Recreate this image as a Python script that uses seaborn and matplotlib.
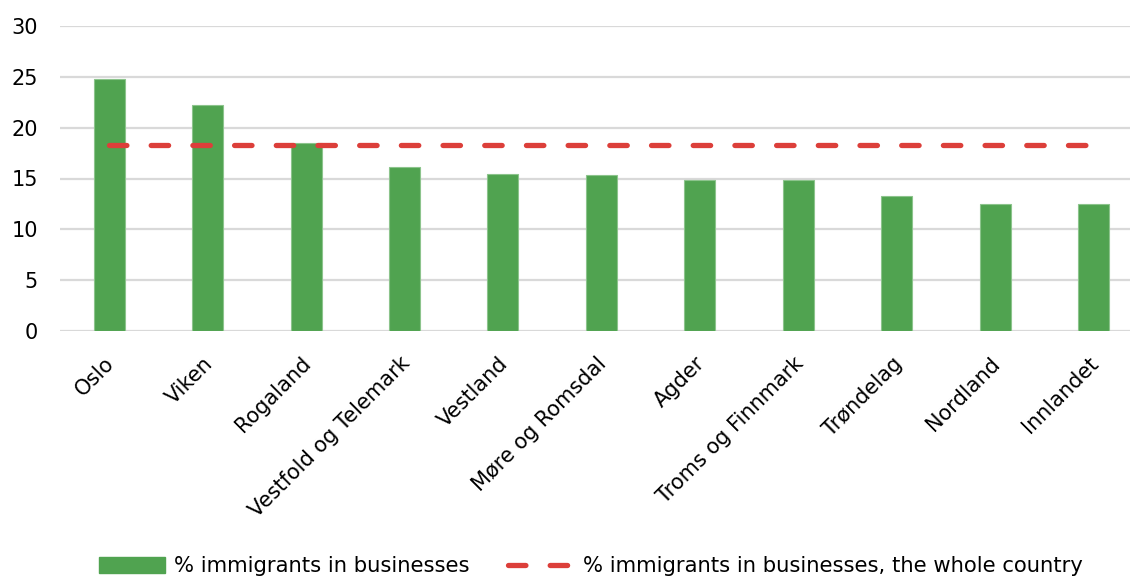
import matplotlib
matplotlib.use("Agg")
import matplotlib.pyplot as plt
import matplotlib.transforms as mtransforms
import seaborn as sns
import pandas as pd
from matplotlib.lines import Line2D
from matplotlib.patches import Patch

regions = ["Oslo", "Viken", "Rogaland", "Vestfold og Telemark", "Vestland",
           "Møre og Romsdal", "Agder", "Troms og Finnmark", "Trøndelag",
           "Nordland", "Innlandet"]
share = [24.8, 22.2, 18.5, 16.1, 15.4, 15.3, 14.9, 14.9, 13.3, 12.5, 12.5]
country_share = 18.3
yticks = [0, 5, 10, 15, 20, 25, 30]

bar_label = "% immigrants in businesses"
line_label = "% immigrants in businesses, the whole country"

green = "#50A350"
red = "#DC3F3A"
grid = "#D9D9D9"

sns.set_theme(style="white")
plt.rcParams["font.family"] = ["DejaVu Sans"]

W, H = 1130, 578
fig = plt.figure(figsize=(W / 100, H / 100), dpi=100)
ax = fig.add_axes([60 / W, (H - 331) / H, (1130 - 60) / W, (331 - 26) / H])

df = pd.DataFrame({"region": regions, "share": share})
sns.barplot(data=df, x="region", y="share", color=green, width=0.315,
            saturation=1, edgecolor="#8CC48C", linewidth=0.8, ax=ax, zorder=2)

dash = (0, (3.3, 4.6))
line_w = 3.8
ax.plot([0, len(regions) - 1], [country_share, country_share], color=red,
        lw=line_w, ls=dash, dash_capstyle="round", zorder=3)

ax.set_xlim(-0.5, 10.37)
ax.set_ylim(0, 30)
ax.set_yticks(yticks)
ax.yaxis.grid(True, color=grid, lw=1.6)
ax.set_axisbelow(True)
for s in ax.spines.values():
    s.set_visible(False)
ax.set_xlabel("")
ax.set_ylabel("")
ax.tick_params(axis="y", labelsize=15, length=0, pad=16, colors="black")
ax.tick_params(axis="x", labelsize=15, length=0, pad=16, colors="black")
shift = mtransforms.ScaledTranslation(-5 / 100, 0, fig.dpi_scale_trans)
for lbl in ax.get_xticklabels():
    lbl.set_rotation(45)
    lbl.set_ha("right")
    lbl.set_rotation_mode("anchor")
    lbl.set_transform(lbl.get_transform() + shift)

handles = [Patch(facecolor=green, edgecolor=green),
           Line2D([0], [0], color=red, lw=line_w, ls=dash,
                  dash_capstyle="round")]
fig.legend(handles, [bar_label, line_label], loc="lower center",
           bbox_to_anchor=(0.523, -0.03), ncol=2, frameon=False, fontsize=15.2,
           handlelength=3.1, handleheight=0.75, columnspacing=1.8,
           handletextpad=0.45, labelcolor="black")

fig.savefig("out.png", dpi=100)
